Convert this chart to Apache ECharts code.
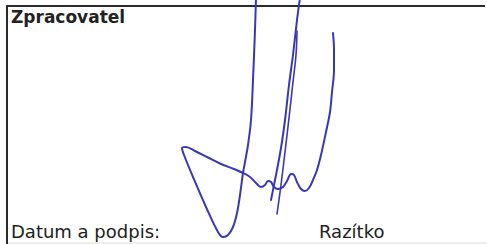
<!DOCTYPE html>
<html>
<head>
<meta charset="utf-8">
<script src="https://cdn.jsdelivr.net/npm/echarts@6/dist/echarts.min.js"></script>
<style>
  html, body { margin: 0; padding: 0; background: #fff; }
  #chart { width: 487px; height: 244px; }
</style>
</head>
<body>
<div id="chart"></div>
<script>
// form labels
const topLabel = "Zpracovatel";
const signLabel = "Datum a podpis:";
const stampLabel = "Razítko";

// signature strokes, in page units (x right, y down)
const strokeMain = [
  [256, -2], [255, 30], [253, 80], [251, 120], [248, 145], [245, 162], [243, 173],
  [240, 195], [237, 213], [233, 227], [228, 235], [223, 237], [218, 232],
  [206, 207], [193, 177], [184, 155], [182, 148], [186, 147], [195, 151],
  [207, 157], [221, 164], [234, 169], [243, 173], [250, 177], [256, 183],
  [261, 187], [265, 185], [268, 181], [271, 182], [274, 187], [278, 189],
  [283, 187], [287, 181], [291, 174], [294, 175], [297, 182], [301, 189],
  [305, 191], [309, 188], [313, 180], [317, 170], [321, 155], [326, 132],
  [330, 112], [332, 92], [334, 70], [334, 50], [333, 33]
];
const strokeSecond = [
  [300, -2], [297, 20], [293, 55], [289, 85], [285, 120], [281, 148],
  [276, 175], [273, 190], [271, 200]
];
const strokeThird = [
  [297, 31], [296, 55], [293, 82], [289, 118], [285, 152], [281, 185],
  [277, 214]
];

const ink = "#3a37b6";

const chart = echarts.init(document.getElementById("chart"), null, { renderer: "svg" });

function stroke(name, data, width) {
  return {
    name: name,
    type: "line",
    data: data,
    smooth: 0.35,
    symbol: "none",
    clip: true,
    lineStyle: { color: ink, width: width, cap: "round", join: "round" },
    silent: true,
    animation: false
  };
}

const option = {
  backgroundColor: "#ffffff",
  animation: false,
  grid: { left: 0, right: 0, top: 0, bottom: 0 },
  xAxis: {
    type: "value", min: 0, max: 487,
    show: false
  },
  yAxis: {
    type: "value", min: 0, max: 244, inverse: true,
    show: false
  },
  graphic: [
    // form frame
    { type: "line", shape: { x1: 7, y1: 6, x2: 485, y2: 6 }, style: { stroke: "#2b2b2b", lineWidth: 2 } },
    { type: "line", shape: { x1: 7, y1: 5, x2: 7, y2: 244 }, style: { stroke: "#2b2b2b", lineWidth: 2 } },
    { type: "line", shape: { x1: 8, y1: 243, x2: 487, y2: 243 }, style: { stroke: "#dcdcdc", lineWidth: 1 } },
    {
      type: "text", left: 11, top: 8,
      style: { text: topLabel, font: "bold 17px 'DejaVu Sans'", fill: "#222" }
    },
    {
      type: "text", left: 11, top: 222,
      style: { text: signLabel, font: "18px 'DejaVu Sans'", fill: "#222" }
    },
    {
      type: "text", left: 319, top: 222,
      style: { text: stampLabel, font: "18px 'DejaVu Sans'", fill: "#222" }
    }
  ],
  series: [
    stroke("main", strokeMain, 2),
    stroke("second", strokeSecond, 2),
    stroke("third", strokeThird, 1.6)
  ]
};

chart.setOption(option);
</script>
</body>
</html>
